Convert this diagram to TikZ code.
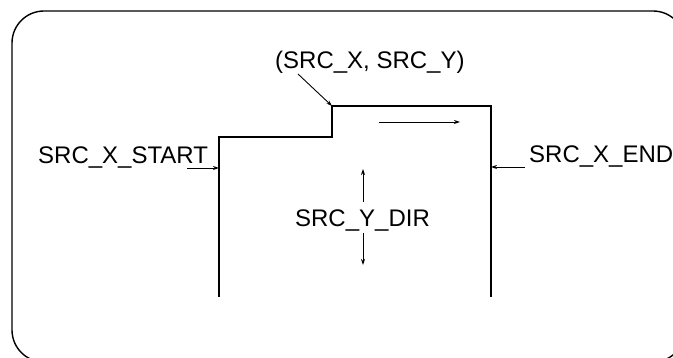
\documentclass[tikz,border=0pt]{standalone}
\usepackage{fontspec}
\setmainfont{Liberation Sans}
\usetikzlibrary{arrows.meta}
\tikzset{
  lbl/.style={inner sep=0pt, font=\fontsize{24}{28}\selectfont},
  frameline/.style={line width=1.4pt, rounded corners=32pt},
  stepline/.style={line width=1.3pt},
  conn/.style={line width=0.9pt, -{Stealth[length=6pt,width=4pt]}}
}
\begin{document}
\begin{tikzpicture}[x=1pt,y=-1pt]
\useasboundingbox (0,0) rectangle (673,358);
% frame
\draw[frameline] (12,11) rectangle (685,362);
% step outline
\coordinate (b1) at (219,297);
\coordinate (c1) at (219,137);
\coordinate (c2) at (332,137);
\coordinate (c3) at (332,106);
\coordinate (c4) at (491,106);
\coordinate (b2) at (491,297);
\draw[stepline] (b1) -- (c1) -- (c2) -- (c3) -- (c4) -- (b2);
% labels
\node[lbl, anchor=base west] (xstart) at (38,164) {SRC\_X\_START};
\node[lbl, anchor=base west] (xend) at (529,163) {SRC\_X\_END};
\node[lbl, anchor=base west] (xy) at (275,69) {(SRC\_X, SRC\_Y)};
\node[lbl, anchor=base] (ydir) at (362.5,227) {SRC\_Y\_DIR};
% connector endpoints
\coordinate (xsFrom) at (187,168);
\coordinate (xsTo) at (219,168);
\coordinate (xeFrom) at (525,167);
\coordinate (xeTo) at (491,167);
\coordinate (xyFrom) at (298,74);
\coordinate (rFrom) at (379,122);
\coordinate (rTo) at (460,122);
\coordinate (uFrom) at (363,202);
\coordinate (uTo) at (363,169);
\coordinate (dFrom) at (363,233);
\coordinate (dTo) at (363,265);
% connectors
\draw[conn] (xsFrom) -- (xsTo);
\draw[conn] (xeFrom) -- (xeTo);
\draw[conn] (xyFrom) -- (c3);
\draw[conn] (rFrom) -- (rTo);
\draw[conn] (uFrom) -- (uTo);
\draw[conn] (dFrom) -- (dTo);
\end{tikzpicture}
\end{document}
